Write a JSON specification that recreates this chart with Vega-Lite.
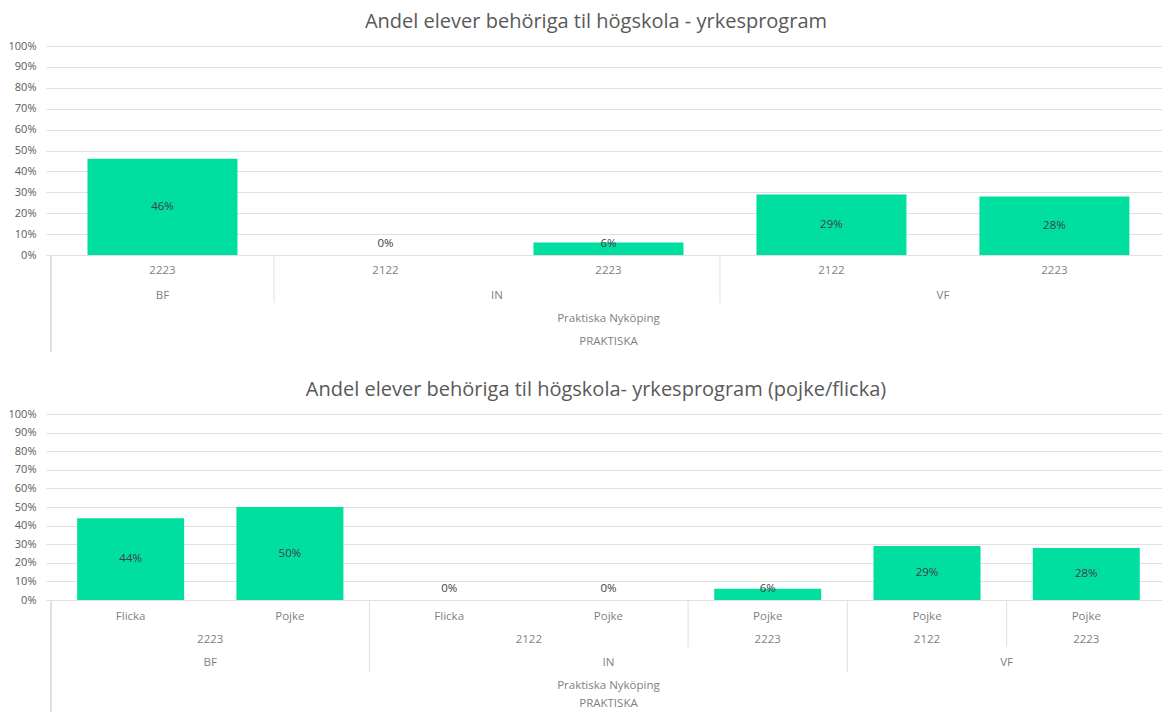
{
  "$schema": "https://vega.github.io/schema/vega-lite/v6.json",
  "background": "white",
  "padding": {"left": 8, "top": 12, "right": 0, "bottom": 0},
  "spacing": 27,
  "config": {
    "view": {"stroke": null},
    "font": "Open Sans",
    "title": {"fontSize": 20, "fontWeight": "normal", "color": "#595959", "font": "Open Sans"},
    "axisY": {
      "format": ".0%",
      "domain": false,
      "ticks": false,
      "labelPadding": 10,
      "labelFontSize": 11,
      "labelColor": "#595959",
      "labelOverlap": false,
      "labelFlush": false,
      "gridColor": "#e0e0e0",
      "title": null
    },
    "text": {"font": "Open Sans"}
  },
  "datasets": {
    "total": [
      {"org": "PRAKTISKA", "school": "Praktiska Nyköping", "program": "BF", "year": "2223", "value": 0.46},
      {"org": "PRAKTISKA", "school": "Praktiska Nyköping", "program": "IN", "year": "2122", "value": 0},
      {"org": "PRAKTISKA", "school": "Praktiska Nyköping", "program": "IN", "year": "2223", "value": 0.06},
      {"org": "PRAKTISKA", "school": "Praktiska Nyköping", "program": "VF", "year": "2122", "value": 0.29},
      {"org": "PRAKTISKA", "school": "Praktiska Nyköping", "program": "VF", "year": "2223", "value": 0.28}
    ],
    "gender": [
      {"org": "PRAKTISKA", "school": "Praktiska Nyköping", "program": "BF", "year": "2223", "gender": "Flicka", "value": 0.44},
      {"org": "PRAKTISKA", "school": "Praktiska Nyköping", "program": "BF", "year": "2223", "gender": "Pojke", "value": 0.50},
      {"org": "PRAKTISKA", "school": "Praktiska Nyköping", "program": "IN", "year": "2122", "gender": "Flicka", "value": 0},
      {"org": "PRAKTISKA", "school": "Praktiska Nyköping", "program": "IN", "year": "2122", "gender": "Pojke", "value": 0},
      {"org": "PRAKTISKA", "school": "Praktiska Nyköping", "program": "IN", "year": "2223", "gender": "Pojke", "value": 0.06},
      {"org": "PRAKTISKA", "school": "Praktiska Nyköping", "program": "VF", "year": "2122", "gender": "Pojke", "value": 0.29},
      {"org": "PRAKTISKA", "school": "Praktiska Nyköping", "program": "VF", "year": "2223", "gender": "Pojke", "value": 0.28}
    ]
  },
  "vconcat": [
    {
      "data": {"name": "total"},
      "title": {"text": "Andel elever behöriga til högskola - yrkesprogram", "dx": -8, "offset": 8},
      "width": 1116,
      "height": 209,
      "transform": [
        {"window": [{"op": "row_number", "as": "idx"}]},
        {"calculate": "max(datum.value / 2, 0.055)", "as": "mid"}
      ],
      "layer": [
        {
          "mark": {"type": "bar", "width": 150, "color": "#00df9f"},
          "encoding": {
            "x": {"field": "idx", "type": "quantitative", "scale": {"domain": [0.5, 5.46], "nice": false, "zero": false}, "axis": null},
            "y": {"field": "value", "type": "quantitative", "scale": {"domain": [0, 1], "nice": false}, "axis": {"values": [0, 0.1, 0.2, 0.3, 0.4, 0.5, 0.6, 0.7, 0.8, 0.9, 1], "tickCount": 11}}
          }
        },
        {
          "mark": {"type": "text", "fontSize": 11.5, "color": "#404040", "baseline": "middle"},
          "encoding": {
            "x": {"field": "idx", "type": "quantitative"},
            "y": {"field": "mid", "type": "quantitative", "axis": {"values": [0, 0.1, 0.2, 0.3, 0.4, 0.5, 0.6, 0.7, 0.8, 0.9, 1], "tickCount": 11}},
            "text": {"field": "value", "type": "quantitative", "format": ".0%"}
          }
        },
        {
          "mark": {"type": "text", "fontSize": 11.5, "color": "#7f7f7f", "baseline": "middle", "dy": 16},
          "encoding": {
            "x": {"field": "idx", "type": "quantitative"},
            "y": {"datum": 0, "axis": {"values": [0, 0.1, 0.2, 0.3, 0.4, 0.5, 0.6, 0.7, 0.8, 0.9, 1], "tickCount": 11}},
            "text": {"field": "year"}
          }
        },
        {
          "mark": {"type": "text", "fontSize": 11.5, "color": "#7f7f7f", "baseline": "middle", "dy": 41},
          "encoding": {
            "x": {"aggregate": "mean", "field": "idx", "type": "quantitative"},
            "y": {"datum": 0, "axis": {"values": [0, 0.1, 0.2, 0.3, 0.4, 0.5, 0.6, 0.7, 0.8, 0.9, 1], "tickCount": 11}},
            "text": {"field": "program"}
          }
        },
        {
          "mark": {"type": "text", "fontSize": 11.5, "color": "#7f7f7f", "baseline": "middle", "dy": 64},
          "encoding": {
            "x": {"aggregate": "mean", "field": "idx", "type": "quantitative"},
            "y": {"datum": 0, "axis": {"values": [0, 0.1, 0.2, 0.3, 0.4, 0.5, 0.6, 0.7, 0.8, 0.9, 1], "tickCount": 11}},
            "text": {"field": "school"}
          }
        },
        {
          "mark": {"type": "text", "fontSize": 11.5, "color": "#7f7f7f", "baseline": "middle", "dy": 87},
          "encoding": {
            "x": {"aggregate": "mean", "field": "idx", "type": "quantitative"},
            "y": {"datum": 0, "axis": {"values": [0, 0.1, 0.2, 0.3, 0.4, 0.5, 0.6, 0.7, 0.8, 0.9, 1], "tickCount": 11}},
            "text": {"field": "org"}
          }
        },
        {
          "transform": [
            {"aggregate": [{"op": "min", "field": "idx", "as": "start"}], "groupby": ["program"]},
            {"filter": "datum.start > 1"},
            {"calculate": "datum.start - 0.5", "as": "edge"}
          ],
          "mark": {"type": "rule", "color": "#e0e0e0", "y2Offset": 48},
          "encoding": {
            "x": {"field": "edge", "type": "quantitative"},
            "y": {"datum": 0, "axis": {"values": [0, 0.1, 0.2, 0.3, 0.4, 0.5, 0.6, 0.7, 0.8, 0.9, 1], "tickCount": 11}},
            "y2": {"datum": 0}
          }
        },
        {
          "mark": {"type": "rule", "color": "#e0e0e0", "y2Offset": 97},
          "encoding": {
            "x": {"datum": 0.5},
            "y": {"datum": 0, "axis": {"values": [0, 0.1, 0.2, 0.3, 0.4, 0.5, 0.6, 0.7, 0.8, 0.9, 1], "tickCount": 11}},
            "y2": {"datum": 0}
          }
        }
      ]
    },
    {
      "data": {"name": "gender"},
      "title": {"text": "Andel elever behöriga til högskola- yrkesprogram (pojke/flicka)", "dx": -8, "offset": 8},
      "width": 1116,
      "height": 186,
      "transform": [
        {"window": [{"op": "row_number", "as": "idx"}]},
        {"calculate": "max(datum.value / 2, 0.058)", "as": "mid"}
      ],
      "layer": [
        {
          "mark": {"type": "bar", "width": 107, "color": "#00df9f"},
          "encoding": {
            "x": {"field": "idx", "type": "quantitative", "scale": {"domain": [0.5, 7.444], "nice": false, "zero": false}, "axis": null},
            "y": {"field": "value", "type": "quantitative", "scale": {"domain": [0, 1], "nice": false}, "axis": {"values": [0, 0.1, 0.2, 0.3, 0.4, 0.5, 0.6, 0.7, 0.8, 0.9, 1], "tickCount": 11}}
          }
        },
        {
          "mark": {"type": "text", "fontSize": 11.5, "color": "#404040", "baseline": "middle"},
          "encoding": {
            "x": {"field": "idx", "type": "quantitative"},
            "y": {"field": "mid", "type": "quantitative", "axis": {"values": [0, 0.1, 0.2, 0.3, 0.4, 0.5, 0.6, 0.7, 0.8, 0.9, 1], "tickCount": 11}},
            "text": {"field": "value", "type": "quantitative", "format": ".0%"}
          }
        },
        {
          "mark": {"type": "text", "fontSize": 11.5, "color": "#7f7f7f", "baseline": "middle", "dy": 17},
          "encoding": {
            "x": {"field": "idx", "type": "quantitative"},
            "y": {"datum": 0, "axis": {"values": [0, 0.1, 0.2, 0.3, 0.4, 0.5, 0.6, 0.7, 0.8, 0.9, 1], "tickCount": 11}},
            "text": {"field": "gender"}
          }
        },
        {
          "mark": {"type": "text", "fontSize": 11.5, "color": "#7f7f7f", "baseline": "middle", "dy": 40},
          "encoding": {
            "x": {"aggregate": "mean", "field": "idx", "type": "quantitative"},
            "y": {"datum": 0, "axis": {"values": [0, 0.1, 0.2, 0.3, 0.4, 0.5, 0.6, 0.7, 0.8, 0.9, 1], "tickCount": 11}},
            "detail": {"field": "program"},
            "text": {"field": "year"}
          }
        },
        {
          "mark": {"type": "text", "fontSize": 11.5, "color": "#7f7f7f", "baseline": "middle", "dy": 63},
          "encoding": {
            "x": {"aggregate": "mean", "field": "idx", "type": "quantitative"},
            "y": {"datum": 0, "axis": {"values": [0, 0.1, 0.2, 0.3, 0.4, 0.5, 0.6, 0.7, 0.8, 0.9, 1], "tickCount": 11}},
            "text": {"field": "program"}
          }
        },
        {
          "mark": {"type": "text", "fontSize": 11.5, "color": "#7f7f7f", "baseline": "middle", "dy": 86},
          "encoding": {
            "x": {"aggregate": "mean", "field": "idx", "type": "quantitative"},
            "y": {"datum": 0, "axis": {"values": [0, 0.1, 0.2, 0.3, 0.4, 0.5, 0.6, 0.7, 0.8, 0.9, 1], "tickCount": 11}},
            "text": {"field": "school"}
          }
        },
        {
          "mark": {"type": "text", "fontSize": 11.5, "color": "#7f7f7f", "baseline": "middle", "dy": 104},
          "encoding": {
            "x": {"aggregate": "mean", "field": "idx", "type": "quantitative"},
            "y": {"datum": 0, "axis": {"values": [0, 0.1, 0.2, 0.3, 0.4, 0.5, 0.6, 0.7, 0.8, 0.9, 1], "tickCount": 11}},
            "text": {"field": "org"}
          }
        },
        {
          "transform": [
            {"joinaggregate": [{"op": "min", "field": "idx", "as": "pstart"}], "groupby": ["program"]},
            {"joinaggregate": [{"op": "min", "field": "idx", "as": "ystart"}], "groupby": ["program", "year"]},
            {"filter": "datum.idx == datum.ystart && datum.ystart != datum.pstart"},
            {"calculate": "datum.idx - 0.5", "as": "edge"}
          ],
          "mark": {"type": "rule", "color": "#e0e0e0", "y2Offset": 47},
          "encoding": {
            "x": {"field": "edge", "type": "quantitative"},
            "y": {"datum": 0, "axis": {"values": [0, 0.1, 0.2, 0.3, 0.4, 0.5, 0.6, 0.7, 0.8, 0.9, 1], "tickCount": 11}},
            "y2": {"datum": 0}
          }
        },
        {
          "transform": [
            {"aggregate": [{"op": "min", "field": "idx", "as": "start"}], "groupby": ["program"]},
            {"filter": "datum.start > 1"},
            {"calculate": "datum.start - 0.5", "as": "edge"}
          ],
          "mark": {"type": "rule", "color": "#e0e0e0", "y2Offset": 72},
          "encoding": {
            "x": {"field": "edge", "type": "quantitative"},
            "y": {"datum": 0, "axis": {"values": [0, 0.1, 0.2, 0.3, 0.4, 0.5, 0.6, 0.7, 0.8, 0.9, 1], "tickCount": 11}},
            "y2": {"datum": 0}
          }
        },
        {
          "mark": {"type": "rule", "color": "#e0e0e0", "y2Offset": 112},
          "encoding": {
            "x": {"datum": 0.5},
            "y": {"datum": 0, "axis": {"values": [0, 0.1, 0.2, 0.3, 0.4, 0.5, 0.6, 0.7, 0.8, 0.9, 1], "tickCount": 11}},
            "y2": {"datum": 0}
          }
        }
      ]
    }
  ]
}
